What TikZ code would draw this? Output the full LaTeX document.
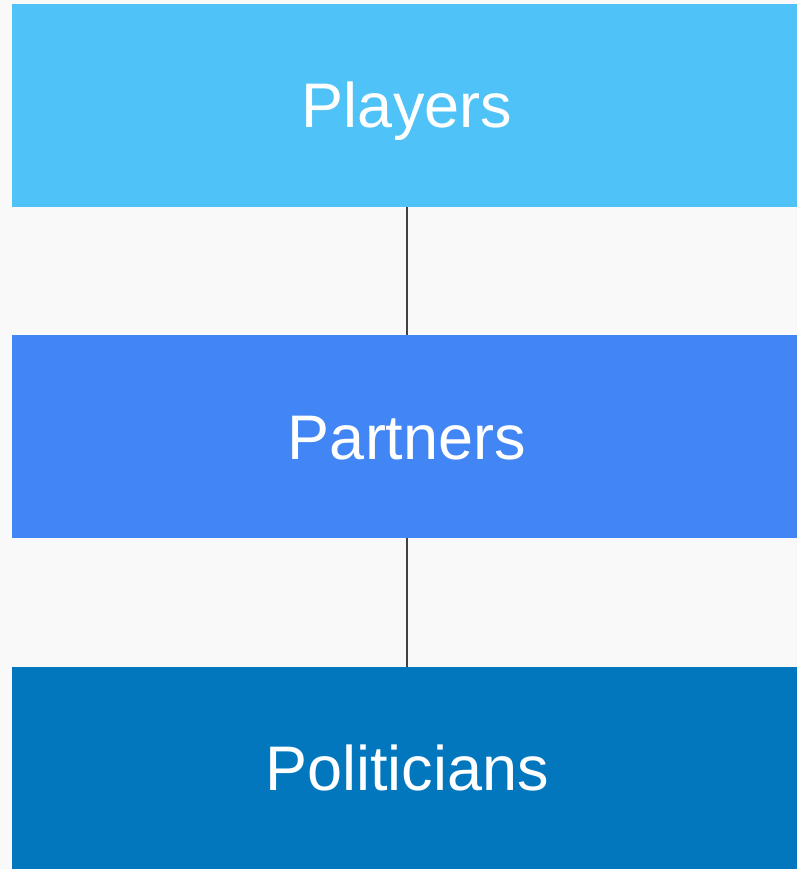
\documentclass[tikz,border=0pt]{standalone}
\usepackage{fontspec}
\setmainfont{Liberation Sans}
\definecolor{bg}{HTML}{F9F9F9}
\definecolor{cA}{HTML}{4FC3F7}
\definecolor{cB}{HTML}{4285F4}
\definecolor{cC}{HTML}{0277BD}
\definecolor{lineC}{HTML}{424242}
\begin{document}
\begin{tikzpicture}[x=1pt,y=-1pt,
  tier/.style={fill=#1, draw=none, inner sep=0pt, outer sep=0pt},
  lbl/.style={text=white, font=\fontsize{63}{63}\selectfont, anchor=base, inner sep=0pt},
  conn/.style={draw=lineC, line width=2pt}]
\useasboundingbox (0,0) rectangle (797,869);
\fill[bg] (0,0) rectangle (797,869);
\node[tier=cA, minimum width=785pt, minimum height=203pt, anchor=north west] (players) at (12,4) {};
\node[tier=cB, minimum width=785pt, minimum height=203pt, anchor=north west] (partners) at (12,335) {};
\node[tier=cC, minimum width=785pt, minimum height=202pt, anchor=north west] (politicians) at (12,667) {};
\node[lbl] (tA) at (407,128) {Players};
\node[lbl] (tB) at (407,459) {Partners};
\node[lbl] (tC) at (407,790) {Politicians};
\draw[conn] (players.south -| tA) -- (partners.north -| tA);
\draw[conn] (partners.south -| tA) -- (politicians.north -| tA);
\end{tikzpicture}
\end{document}
